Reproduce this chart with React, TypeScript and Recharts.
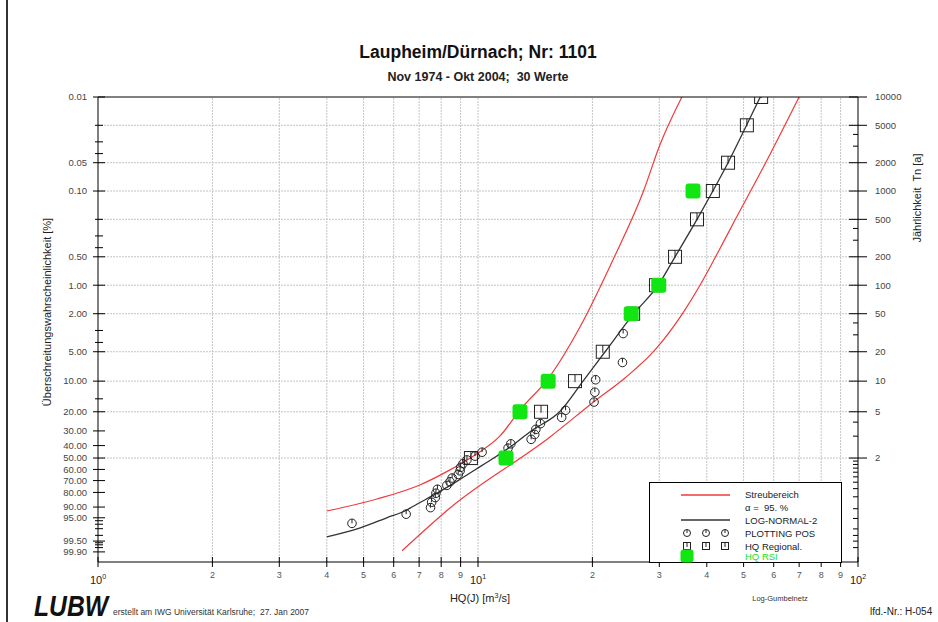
import React from 'react';
import { ComposedChart, Line, Scatter, XAxis, YAxis, ReferenceLine } from 'recharts';

const FONT = '"Liberation Sans", Arial, Helvetica, sans-serif';

// Überschreitungswahrscheinlichkeit [%] -> reduzierte Gumbel-Variable
const gumbel = (p: number) => -Math.log(-Math.log(1 - p / 100));
const fromT = (t: number) => gumbel(100 / t);

const Y_MAX = gumbel(0.01);
const Y_MIN = -2.18;

// Plotting positions (30 Werte), HQ [m3/s] und Überschreitungswahrscheinlichkeit [%]
const plotPosQ = [24.1, 24.0, 20.4, 20.3, 20.2, 17.0, 16.6, 14.6, 14.2, 14.1, 13.8, 12.2, 12.0, 10.25, 9.82,
  9.35, 9.13, 9.0, 8.97, 8.87, 8.55, 8.44, 8.28, 7.82, 7.75, 7.72, 7.55, 7.5, 6.47, 4.66];
const plotPosP = [3.23, 6.45, 9.68, 12.9, 16.13, 19.35, 22.58, 25.81, 29.03, 32.26, 35.48, 38.71, 41.94, 45.16, 48.39,
  51.61, 54.84, 58.06, 61.29, 64.52, 67.74, 70.97, 74.19, 77.42, 80.65, 83.87, 87.1, 90.32, 93.55, 96.77];

// HQ Regional, Jährlichkeit Tn [a]
const regionalT = [2, 5, 10, 20, 50, 100, 200, 500, 1000, 2000, 5000, 10000];
const regionalQ = [9.58, 14.65, 18.0, 21.3, 25.6, 29.4, 33.0, 37.7, 41.5, 45.5, 51.0, 55.6];

// HQ RSI
const rsiT = [2, 5, 10, 50, 100, 1000];
const rsiQ = [11.85, 12.9, 15.3, 25.3, 29.9, 36.8];

// LOG-NORMAL-2 Anpassung
const lnP = [99.17, 97.86, 95, 91.56, 90, 80, 70, 60, 50, 40, 30, 20, 10, 5, 2, 1, 0.5, 0.2, 0.1, 0.05, 0.02, 0.01];
const lnQ = [4.0, 4.9, 5.75, 6.5, 6.7, 7.86, 8.86, 9.86, 11.0, 12.3, 13.8, 16.4, 18.9, 21.6, 25.7, 29.8, 33.0, 37.7, 41.5, 45.5, 50.9, 55.3];

// Streubereich 95 %, obere und untere Grenze
const upperP = [92.1, 84.9, 73.8, 60.4, 47.4, 33.2, 19.2, 9.5, 2.76, 0.54, 0.1025, 0.0324, 0.01];
const upperQ = [4.0, 5.42, 7.03, 8.44, 9.82, 11.43, 12.9, 15.28, 18.55, 22.65, 27.2, 30.1, 34.4];
const lowerP = [99.88, 90.5, 33.9, 15.75, 9.29, 4.79, 1.96, 1.0, 0.49, 0.203, 0.057, 0.01];
const lowerQ = [6.31, 8.44, 15.47, 20.3, 24.37, 29.23, 34.63, 38.39, 42.3, 47.47, 56.2, 70.0];

// Achsen
const xTickValues = [1, 2, 3, 4, 5, 6, 7, 8, 9, 10, 20, 30, 40, 50, 60, 70, 80, 90, 100];
const xGridValues = [2, 3, 4, 5, 6, 7, 8, 9, 10, 20, 30, 40, 50, 60, 70, 80, 90];
const leftMajorP = [0.01, 0.05, 0.1, 0.5, 1, 2, 5, 10, 20, 30, 40, 50, 60, 70, 80, 90, 95, 99.5, 99.9];
const leftMinorP = [0.02, 0.03, 0.04, 0.2, 0.3, 0.4, 3, 4, 15, 96, 97, 98, 99, 99.6, 99.7, 99.8];
const rightMajorT = [10000, 5000, 2000, 1000, 500, 200, 100, 50, 20, 10, 5, 2];
const rightMinorT = [4000, 3000, 400, 300, 40, 30, 4, 3, 1.9, 1.8, 1.7, 1.6, 1.5, 1.4, 1.3, 1.2, 1.1,
  1.05, 1.02, 1.01, 1.005, 1.002];

type TickDef = { g: number; label: string; major: boolean };

const leftTicks: TickDef[] = [
  ...leftMajorP.map((p) => ({ g: gumbel(p), label: p.toFixed(2), major: true })),
  ...leftMinorP.map((p) => ({ g: gumbel(p), label: '', major: false })),
];
const rightTicks: TickDef[] = [
  ...rightMajorT.map((t) => ({ g: fromT(t), label: String(t), major: true })),
  ...rightMinorT.map((t) => ({ g: fromT(t), label: '', major: false })),
];

const nearest = (list: TickDef[], v: number) =>
  list.reduce((a, b) => (Math.abs(b.g - v) < Math.abs(a.g - v) ? b : a));

const toPts = (q: number[], p: number[]) =>
  q.map((v, i) => ({ x: Math.log10(v), y: gumbel(p[i]) })).sort((a, b) => a.x - b.x);

const plotPosData = toPts(plotPosQ, plotPosP);
const regionalData = regionalQ.map((v, i) => ({ x: Math.log10(v), y: fromT(regionalT[i]) }));
const rsiData = rsiQ.map((v, i) => ({ x: Math.log10(v), y: fromT(rsiT[i]) }));
const lnData = toPts(lnQ, lnP);
const upperData = toPts(upperQ, upperP);
const lowerData = toPts(lowerQ, lowerP);

// eslint-disable-next-line @typescript-eslint/no-explicit-any
function BottomTick(props: any) {
  const { x, y, payload } = props;
  const axisY = y - 10;
  const e = Math.floor(payload.value + 1e-9);
  const mant = Math.round(Math.pow(10, payload.value - e));
  return (
    <g>
      <line x1={x} x2={x} y1={axisY - 5} y2={axisY + 5} stroke="#000" />
      {mant === 1 ? (
        <text x={x} y={axisY + 22} textAnchor="middle" fontSize={11} fill="#222" fontFamily={FONT}>
          10<tspan dy={-5} fontSize={7}>{e}</tspan>
        </text>
      ) : (
        <text x={x} y={axisY + 16} textAnchor="middle" fontSize={9} fill="#555" fontFamily={FONT}>
          {mant}
        </text>
      )}
    </g>
  );
}

// eslint-disable-next-line @typescript-eslint/no-explicit-any
function TopTick(props: any) {
  const { x, y } = props;
  const axisY = y + 5;
  return <line x1={x} x2={x} y1={axisY} y2={axisY + 5} stroke="#000" />;
}

// eslint-disable-next-line @typescript-eslint/no-explicit-any
function LeftTick(props: any) {
  const { x, y, payload } = props;
  const axisX = x + 10;
  const t = nearest(leftTicks, payload.value);
  return (
    <g>
      <line x1={axisX - (t.major ? 5 : 3)} x2={axisX + (t.major ? 7 : 5)} y1={y} y2={y} stroke="#000" />
      {t.major && (
        <text x={axisX - 11} y={y} dy="0.35em" textAnchor="end" fontSize={9.5} fill="#444" fontFamily={FONT}>
          {t.label}
        </text>
      )}
    </g>
  );
}

// eslint-disable-next-line @typescript-eslint/no-explicit-any
function RightTick(props: any) {
  const { x, y, payload } = props;
  const axisX = x - 10;
  const t = nearest(rightTicks, payload.value);
  return (
    <g>
      <line x1={axisX - (t.major ? 9 : 5)} x2={axisX + (t.major ? 9 : 0)} y1={y} y2={y} stroke="#000" />
      {t.major && (
        <text x={axisX + 17} y={y} dy="0.35em" textAnchor="start" fontSize={9.5} fill="#444" fontFamily={FONT}>
          {t.label}
        </text>
      )}
    </g>
  );
}

function CircleMark({ cx, cy, r = 4.3 }: { cx: number; cy: number; r?: number }) {
  return (
    <g>
      <circle cx={cx} cy={cy} r={r} fill="none" stroke="#222" strokeWidth={1} />
      <line x1={cx} x2={cx} y1={cy - r} y2={cy} stroke="#222" strokeWidth={1} />
    </g>
  );
}

function SquareMark({ cx, cy, s = 13 }: { cx: number; cy: number; s?: number }) {
  return (
    <g>
      <rect x={cx - s / 2} y={cy - s / 2} width={s} height={s} fill="none" stroke="#222" strokeWidth={1} />
      <line x1={cx} x2={cx} y1={cy - s / 2} y2={cy + 1} stroke="#222" strokeWidth={1} />
    </g>
  );
}

function GreenMark({ cx, cy, s = 15 }: { cx: number; cy: number; s?: number }) {
  return <rect x={cx - s / 2} y={cy - s / 2} width={s} height={s} rx={3} fill="#12e612" />;
}

function Legend() {
  return (
    <g fontFamily={FONT} fontSize={9.5} fill="#222">
      <rect x={649.5} y={482.5} width={192} height={80} fill="#fff" stroke="#000" />
      <line x1={681} x2={730} y1={495} y2={495} stroke="#ef3b3b" strokeWidth={1.3} />
      <text x={745} y={498}>Streubereich</text>
      <text x={745} y={511} style={{ whiteSpace: 'pre' }}>α =  95. %</text>
      <line x1={681} x2={730} y1={520} y2={520} stroke="#333" strokeWidth={1.3} />
      <text x={745} y={524}>LOG-NORMAL-2</text>
      <CircleMark cx={687} cy={533} r={3.5} />
      <CircleMark cx={706} cy={533} r={3.5} />
      <CircleMark cx={725} cy={533} r={3.5} />
      <text x={745} y={537}>PLOTTING POS</text>
      <SquareMark cx={687} cy={546} s={7} />
      <SquareMark cx={706} cy={546} s={7} />
      <SquareMark cx={725} cy={546} s={7} />
      <text x={745} y={550}>HQ Regional.</text>
      <GreenMark cx={687} cy={556} s={13} />
      <text x={745} y={560} fill="#22e022">HQ RSI</text>
    </g>
  );
}

export default function App() {
  return (
    <div style={{ position: 'absolute', left: 0, top: 0, width: 938, height: 622, background: '#fff', overflow: 'hidden', fontFamily: FONT }}>
      <ComposedChart width={938} height={622} margin={{ top: 96, right: 20, bottom: 30, left: 38 }}>
        <XAxis
          type="number"
          dataKey="x"
          domain={[0, 2]}
          ticks={xTickValues.map((v) => Math.log10(v))}
          interval={0}
          allowDataOverflow
          height={30}
          tickSize={5}
          tickMargin={5}
          tickLine={false}
          axisLine={{ stroke: '#000' }}
          tick={<BottomTick />}
        />
        <XAxis
          xAxisId="top"
          orientation="top"
          type="number"
          domain={[0, 2]}
          ticks={xTickValues.map((v) => Math.log10(v))}
          interval={0}
          allowDataOverflow
          height={1}
          tickSize={5}
          tickMargin={0}
          tickLine={false}
          axisLine={{ stroke: '#000' }}
          tick={<TopTick />}
        />
        <YAxis
          yAxisId="left"
          type="number"
          dataKey="y"
          domain={[Y_MIN, Y_MAX]}
          ticks={leftTicks.map((t) => t.g)}
          interval={0}
          allowDataOverflow
          width={60}
          tickSize={5}
          tickMargin={5}
          tickLine={false}
          axisLine={{ stroke: '#000' }}
          tick={<LeftTick />}
        />
        <YAxis
          yAxisId="right"
          orientation="right"
          type="number"
          domain={[Y_MIN, Y_MAX]}
          ticks={rightTicks.map((t) => t.g)}
          interval={0}
          allowDataOverflow
          width={60}
          tickSize={5}
          tickMargin={5}
          tickLine={false}
          axisLine={{ stroke: '#000' }}
          tick={<RightTick />}
        />

        {rightMajorT.slice(1).map((t) => (
          <ReferenceLine key={`h${t}`} yAxisId="left" y={fromT(t)} stroke="#c4c4c4" strokeDasharray="2 1" />
        ))}
        {xGridValues.map((v) => (
          <ReferenceLine key={`v${v}`} yAxisId="left" x={Math.log10(v)} stroke="#c4c4c4" strokeDasharray="2 1" />
        ))}

        <Line yAxisId="left" data={upperData} dataKey="y" type="monotone" stroke="#ef3b3b" strokeWidth={1.2} dot={false} isAnimationActive={false} />
        <Line yAxisId="left" data={lowerData} dataKey="y" type="monotone" stroke="#ef3b3b" strokeWidth={1.2} dot={false} isAnimationActive={false} />
        <Line yAxisId="left" data={lnData} dataKey="y" type="monotone" stroke="#333" strokeWidth={1.3} dot={false} isAnimationActive={false} />
        <Scatter
          yAxisId="left"
          data={plotPosData}
          dataKey="y"
          isAnimationActive={false}
          // eslint-disable-next-line @typescript-eslint/no-explicit-any
          shape={(p: any) => <CircleMark cx={p.cx} cy={p.cy} />}
        />
        <Scatter
          yAxisId="left"
          data={regionalData}
          dataKey="y"
          isAnimationActive={false}
          // eslint-disable-next-line @typescript-eslint/no-explicit-any
          shape={(p: any) => <SquareMark cx={p.cx} cy={p.cy} />}
        />
        <Scatter
          yAxisId="left"
          data={rsiData}
          dataKey="y"
          isAnimationActive={false}
          // eslint-disable-next-line @typescript-eslint/no-explicit-any
          shape={(p: any) => <GreenMark cx={p.cx} cy={p.cy} />}
        />
      </ComposedChart>

      <svg width={938} height={622} style={{ position: 'absolute', left: 0, top: 0, pointerEvents: 'none' }}>
        <rect x={6} y={0} width={2} height={622} fill="#333" />
        <text x={478} y={58} textAnchor="middle" fontSize={17.5} fontWeight="bold" fill="#111" fontFamily={FONT}>
          Laupheim/Dürnach; Nr: 1101
        </text>
        <text x={478} y={81} textAnchor="middle" fontSize={12.5} fontWeight="bold" fill="#222" fontFamily={FONT} style={{ whiteSpace: 'pre' }}>
          Nov 1974 - Okt 2004;  30 Werte
        </text>
        <text x={51} y={312} transform="rotate(-90 51 312)" textAnchor="middle" fontSize={11} fill="#222" fontFamily={FONT}>
          Überschreitungswahrscheinlichkeit [%]
        </text>
        <text x={921} y={198} transform="rotate(-90 921 198)" textAnchor="middle" fontSize={11} fill="#222" fontFamily={FONT} style={{ whiteSpace: 'pre' }}>
          Jährlichkeit  Tn [a]
        </text>
        <text x={480} y={602} textAnchor="middle" fontSize={11} fill="#222" fontFamily={FONT}>
          HQ(J) [m<tspan dy={-4} fontSize={7}>3</tspan><tspan dy={4}>/s]</tspan>
        </text>
        <text x={780} y={601} textAnchor="middle" fontSize={7.5} fill="#333" fontFamily={FONT}>
          Log-Gumbelnetz
        </text>
        <text x={34} y={616} fontSize={29} fontWeight="bold" fontStyle="italic" fill="#111" fontFamily={FONT} textLength={74} lengthAdjust="spacingAndGlyphs">
          LUBW
        </text>
        <text x={113} y={615} fontSize={8.5} fill="#333" fontFamily={FONT} style={{ whiteSpace: 'pre' }}>
          erstellt am IWG Universität Karlsruhe;  27. Jan 2007
        </text>
        <text x={870} y={615} fontSize={10} fill="#222" fontFamily={FONT}>
          lfd.-Nr.: H-054
        </text>
        <Legend />
      </svg>
    </div>
  );
}
